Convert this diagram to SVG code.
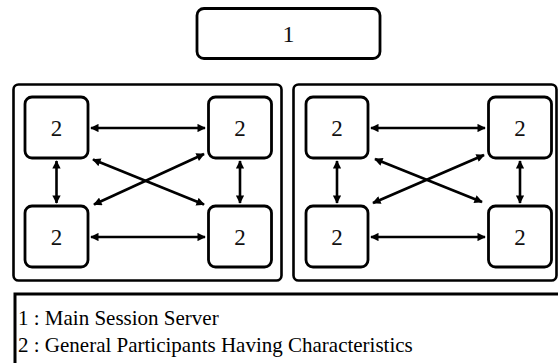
<svg xmlns="http://www.w3.org/2000/svg" width="558" height="363" viewBox="0 0 558 363">
<defs>
<marker id="ah" viewBox="0 0 10 10" refX="9" refY="5" markerWidth="3.4" markerHeight="3.2" orient="auto-start-reverse" markerUnits="strokeWidth">
<path d="M0,0 L10,5 L0,10 Z" fill="#000"/>
</marker>
<style>
.box{fill:#fff;stroke:#000;stroke-width:2.8}
.cont{fill:#fff;stroke:#000;stroke-width:2.6}
.lbl{font-size:23px;fill:#111;text-anchor:middle}
.leg{font-size:21px;fill:#000}
.arr{stroke:#000;stroke-width:2.6;fill:none;marker-start:url(#ah);marker-end:url(#ah)}
</style>
</defs>
<rect width="558" height="363" fill="#fff"/>
<g id="server">
<rect class="box" x="197" y="8.5" width="183" height="50" rx="7"/>
<text class="lbl" x="288.5" y="42" font-family="Liberation Serif, DejaVu Serif, serif" style="font-size:24px">1</text>
</g>
<g id="groupA">
<rect class="cont" x="13.5" y="84.5" width="268" height="196" rx="5"/>
</g>
<g id="groupB">
<rect class="cont" x="293.5" y="84.5" width="263" height="196" rx="5"/>
</g>
<g font-family="Liberation Serif, DejaVu Serif, serif">
<g id="a_tl"><rect class="box" x="25" y="97" width="63" height="61" rx="7"/><text class="lbl" x="56.5" y="136">2</text></g>
<g id="a_tr"><rect class="box" x="208.5" y="97" width="63" height="61" rx="7"/><text class="lbl" x="240" y="136">2</text></g>
<g id="a_bl"><rect class="box" x="25" y="206" width="63" height="61" rx="7"/><text class="lbl" x="56.5" y="245">2</text></g>
<g id="a_br"><rect class="box" x="208.5" y="206" width="63" height="61" rx="7"/><text class="lbl" x="240" y="245">2</text></g>
<g id="b_tl"><rect class="box" x="306" y="97" width="62" height="61" rx="7"/><text class="lbl" x="337" y="136">2</text></g>
<g id="b_tr"><rect class="box" x="488.5" y="97" width="63" height="61" rx="7"/><text class="lbl" x="520" y="136">2</text></g>
<g id="b_bl"><rect class="box" x="306" y="206" width="62" height="61" rx="7"/><text class="lbl" x="337" y="245">2</text></g>
<g id="b_br"><rect class="box" x="488.5" y="206" width="63" height="61" rx="7"/><text class="lbl" x="520" y="245">2</text></g>
</g>
<g id="connectors">
<line class="arr" x1="91" y1="128" x2="205" y2="128"/>
<line class="arr" x1="91" y1="237" x2="205" y2="237"/>
<line class="arr" x1="56.5" y1="161" x2="56.5" y2="203"/>
<line class="arr" x1="240" y1="161" x2="240" y2="203"/>
<line class="arr" x1="93" y1="159.5" x2="204" y2="204.5"/>
<line class="arr" x1="94" y1="204.5" x2="204" y2="154"/>
<line class="arr" x1="371" y1="128" x2="485" y2="128"/>
<line class="arr" x1="371" y1="237" x2="485" y2="237"/>
<line class="arr" x1="337" y1="161" x2="337" y2="203"/>
<line class="arr" x1="520" y1="161" x2="520" y2="203"/>
<line class="arr" x1="375" y1="159" x2="482" y2="202"/>
<line class="arr" x1="373" y1="203" x2="484" y2="155"/>
</g>
<g id="legend" font-family="Liberation Serif, DejaVu Serif, serif">
<rect x="15" y="294" width="548" height="80" fill="#fff" stroke="#000" stroke-width="3"/>
<text class="leg" x="18" y="325">1 : Main Session Server</text>
<text class="leg" x="18" y="352">2 : General Participants Having Characteristics</text>
</g>
</svg>
